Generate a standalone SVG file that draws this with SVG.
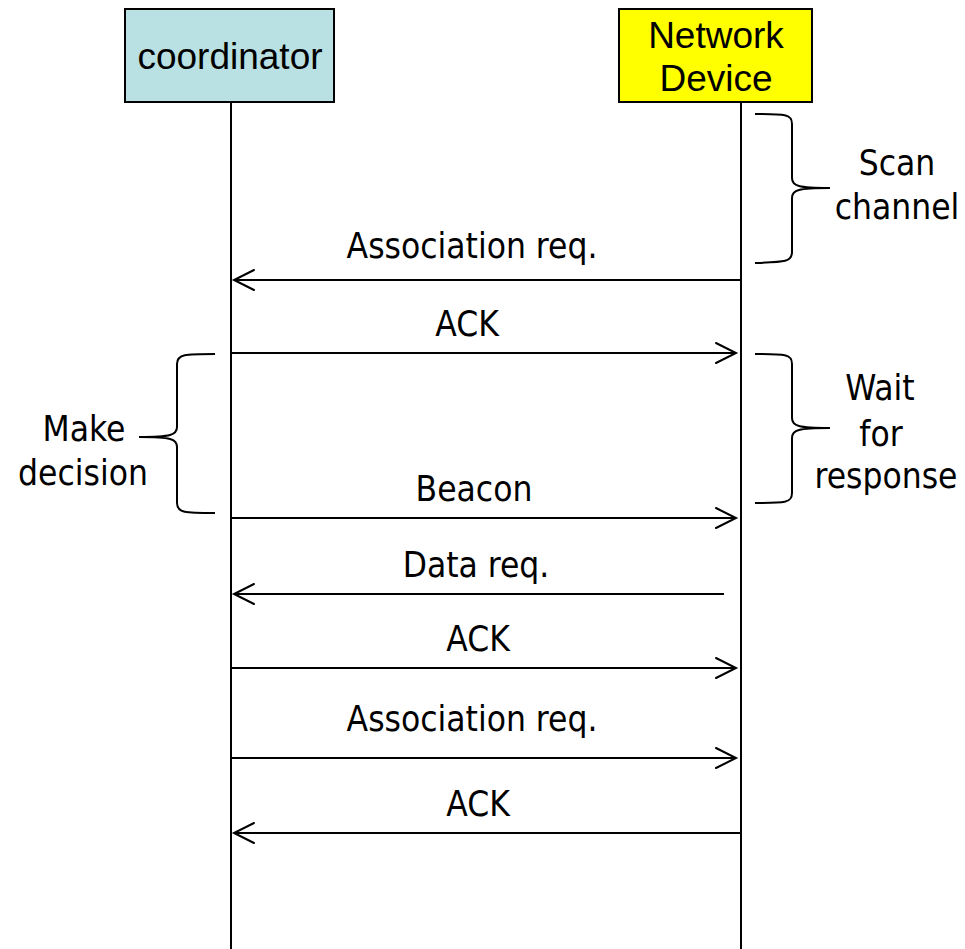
<svg xmlns="http://www.w3.org/2000/svg" width="965" height="949" viewBox="0 0 965 949">
<style>
.box{stroke:#000;stroke-width:2}
.bt{font-family:"Liberation Sans",Arial,sans-serif;font-size:37px;text-anchor:middle;fill:#000}
.lt{font-family:"DejaVu Sans Condensed","Liberation Sans",sans-serif;font-size:35px;text-anchor:middle;fill:#000}
.ln{stroke:#000;stroke-width:2;fill:none}
.ar{stroke:#000;stroke-width:2;fill:none;stroke-linecap:round}
</style>
<rect width="965" height="949" fill="#fff"/>
<g id="coordinator">
<rect class="box" x="125" y="9" width="209" height="93" fill="#B9E0E3"/>
<text class="bt" x="230" y="69">coordinator</text>
<line class="ln" x1="231" y1="102" x2="231" y2="949"/>
</g>
<g id="network-device">
<rect class="box" x="619" y="9" width="193" height="93" fill="#FFFF00"/>
<text class="bt" x="716" y="48">Network</text>
<text class="bt" x="716" y="91">Device</text>
<line class="ln" x1="741" y1="102" x2="741" y2="949"/>
</g>
<g id="scan-channel">
<path class="ln" d="M755,114 C785,114 792,114 792,124 L792,178 C792,186 798,188 830,188 C798,188 792,190 792,198 L792,252 C792,262 785,262 755,263"/>
<text class="lt" x="897" y="175">Scan</text>
<text class="lt" x="897" y="219">channel</text>
</g>
<g id="make-decision">
<path class="ln" d="M215,354 C185,354 177,354 177,364 L177,427 C177,435 171,437 139,437 C171,437 177,439 177,447 L177,503 C177,513 185,513 215,513"/>
<text class="lt" x="84" y="441">Make</text>
<text class="lt" x="83" y="485">decision</text>
</g>
<g id="wait-for-response">
<path class="ln" d="M755,354 C785,354 792,354 792,364 L792,418 C792,426 798,428 830,428 C798,428 792,430 792,438 L792,493 C792,503 785,503 755,503"/>
<text class="lt" x="880" y="400">Wait</text>
<text class="lt" x="881" y="446">for</text>
<text class="lt" x="886" y="488">response</text>
</g>
<g id="connectors">
<line class="ln" x1="741" y1="280" x2="234" y2="280"/>
<polyline class="ar" points="254,270 234,280 254,290"/>
<text class="lt" x="472" y="258">Association req.</text>
<line class="ln" x1="231" y1="353" x2="736" y2="353"/>
<polyline class="ar" points="716,343 736,353 716,363"/>
<text class="lt" x="467" y="336">ACK</text>
<line class="ln" x1="231" y1="518" x2="736" y2="518"/>
<polyline class="ar" points="716,508 736,518 716,528"/>
<text class="lt" x="474" y="501">Beacon</text>
<line class="ln" x1="724" y1="594" x2="234" y2="594"/>
<polyline class="ar" points="254,584 234,594 254,604"/>
<text class="lt" x="476" y="577">Data req.</text>
<line class="ln" x1="231" y1="668" x2="736" y2="668"/>
<polyline class="ar" points="716,658 736,668 716,678"/>
<text class="lt" x="478" y="651">ACK</text>
<line class="ln" x1="231" y1="758" x2="736" y2="758"/>
<polyline class="ar" points="716,748 736,758 716,768"/>
<text class="lt" x="472" y="731">Association req.</text>
<line class="ln" x1="741" y1="833" x2="234" y2="833"/>
<polyline class="ar" points="254,823 234,833 254,843"/>
<text class="lt" x="478" y="816">ACK</text>
</g>
</svg>
